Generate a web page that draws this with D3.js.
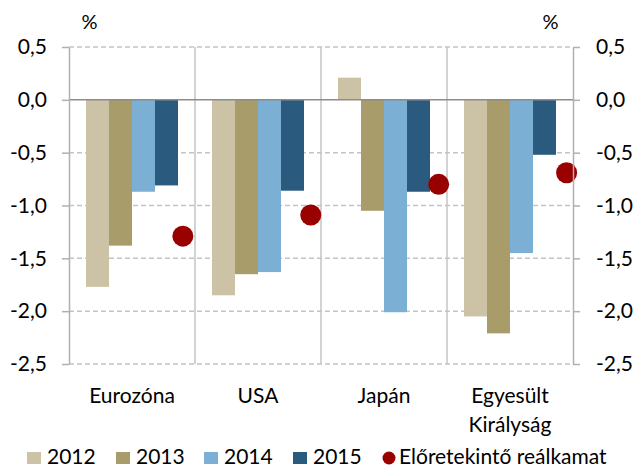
<!DOCTYPE html>
<html>
<head>
<meta charset="utf-8">
<script src="https://cdn.jsdelivr.net/npm/d3@7"></script>
<style>
  html, body { margin: 0; padding: 0; background: #fff; }
  svg { display: block; font-family: Lato, "Liberation Sans", sans-serif; }
</style>
</head>
<body>
<svg id="chart" width="634" height="468"></svg>
<script>
// ---- data ----
const categories = [["Eurozóna"], ["USA"], ["Japán"], ["Egyesült", "Királyság"]];
const seriesNames = ["2012", "2013", "2014", "2015"];
const v2012 = [-1.77, -1.85, 0.21, -2.05];
const v2013 = [-1.38, -1.65, -1.05, -2.21];
const v2014 = [-0.87, -1.63, -2.01, -1.45];
const v2015 = [-0.81, -0.86, -0.87, -0.52];
const forwardReal = [-1.29, -1.09, -0.80, -0.69];
const dotName = "Előretekintő reálkamat";
const yTicks = [0.5, 0, -0.5, -1.0, -1.5, -2.0, -2.5];
const unitLabel = "%";

const seriesValues = [v2012, v2013, v2014, v2015];
const colors = ["#CCC3A6", "#A99C6B", "#7BAFD4", "#2A5B7E"];
const dotColor = "#990000";

// ---- layout ----
const W = 634, H = 468;
const plot = { left: 69, right: 573, top: 47, bottom: 364 };
const svg = d3.select("#chart");
const fontSize = 21;

const y = d3.scaleLinear().domain([-2.5, 0.5]).range([plot.bottom, plot.top]);
const x = d3.scaleBand().domain(d3.range(categories.length)).range([plot.left, plot.right]).paddingInner(0).paddingOuter(0);
const xInner = d3.scaleBand().domain(d3.range(seriesNames.length))
  .range([17, 17 + 23 * 4]).padding(0);
const xDot = d3.scaleLinear().domain([0.11, 4.05]).range([plot.left, plot.right]);

const loc = d3.formatLocale({ decimal: ",", thousands: " ", grouping: [3], currency: ["", ""], minus: "-" });
const fmt = loc.format(".1f");

// gridlines (dashed)
svg.append("g").selectAll("line")
  .data(yTicks.filter(t => t !== 0))
  .join("line")
  .attr("x1", plot.left).attr("x2", plot.right)
  .attr("y1", d => y(d)).attr("y2", d => y(d))
  .attr("stroke", "#c4c4c4").attr("stroke-width", 1.5)
  .attr("stroke-dasharray", "5,3");

// category dividers
svg.append("g").selectAll("line")
  .data(d3.range(1, categories.length))
  .join("line")
  .attr("x1", d => x(d)).attr("x2", d => x(d))
  .attr("y1", plot.top).attr("y2", plot.bottom)
  .attr("stroke", "#c4c4c4").attr("stroke-width", 1.5);

// bars
seriesValues.forEach((vals, si) => {
  svg.append("g").selectAll("rect")
    .data(vals)
    .join("rect")
    .attr("x", (d, i) => x(i) + xInner(si))
    .attr("width", xInner.bandwidth())
    .attr("y", d => Math.min(y(d), y(0)))
    .attr("height", d => Math.abs(y(d) - y(0)))
    .attr("fill", colors[si]);
});

// zero line
svg.append("line")
  .attr("x1", plot.left).attr("x2", plot.right)
  .attr("y1", y(0)).attr("y2", y(0))
  .attr("stroke", "#8c8c8c").attr("stroke-width", 1.5);

// dots
svg.append("g").selectAll("circle")
  .data(forwardReal)
  .join("circle")
  .attr("cx", (d, i) => xDot(i + 1))
  .attr("cy", d => y(d))
  .attr("r", 10.5)
  .attr("fill", dotColor);

// axes
const axL = svg.append("g").attr("transform", `translate(${plot.left},0)`)
  .call(d3.axisLeft(y).tickValues(yTicks).tickFormat(fmt).tickSize(7).tickSizeOuter(0).tickPadding(15));
const axR = svg.append("g").attr("transform", `translate(${plot.right},0)`)
  .call(d3.axisRight(y).tickValues(yTicks).tickFormat(fmt).tickSize(7).tickSizeOuter(0).tickPadding(16));
[axL, axR].forEach(ax => {
  ax.select(".domain").attr("stroke", "#b0b0b0").attr("stroke-width", 1.5);
  ax.selectAll(".tick line").attr("stroke", "#b0b0b0").attr("stroke-width", 1.5);
  ax.selectAll(".tick text").attr("font-size", fontSize).attr("font-family", "Lato").attr("fill", "#000");
});

// unit labels
svg.append("text").attr("x", 89.5).attr("y", 29).attr("text-anchor", "middle")
  .attr("font-size", 20).attr("fill", "#000").text(unitLabel);
svg.append("text").attr("x", 550.5).attr("y", 29).attr("text-anchor", "middle")
  .attr("font-size", 20).attr("fill", "#000").text(unitLabel);

// category labels
categories.forEach((lines, i) => {
  const t = svg.append("text").attr("text-anchor", "middle").attr("font-size", fontSize).attr("fill", "#000");
  lines.forEach((ln, j) => {
    t.append("tspan").attr("x", x(i) + x.bandwidth() / 2).attr("y", 403 + j * 29).text(ln);
  });
});

// legend
const legend = svg.append("g");
const legendX = [27, 116, 204, 293];
seriesNames.forEach((name, i) => {
  legend.append("rect").attr("x", legendX[i]).attr("y", 452).attr("width", 14).attr("height", 12).attr("fill", colors[i]);
  legend.append("text").attr("x", legendX[i] + 20).attr("y", 464).attr("font-size", fontSize).attr("fill", "#000").text(name);
});
legend.append("circle").attr("cx", 389).attr("cy", 458).attr("r", 6.5).attr("fill", dotColor);
legend.append("text").attr("x", 399).attr("y", 464).attr("font-size", fontSize).attr("fill", "#000").text(dotName);
</script>
</body>
</html>
